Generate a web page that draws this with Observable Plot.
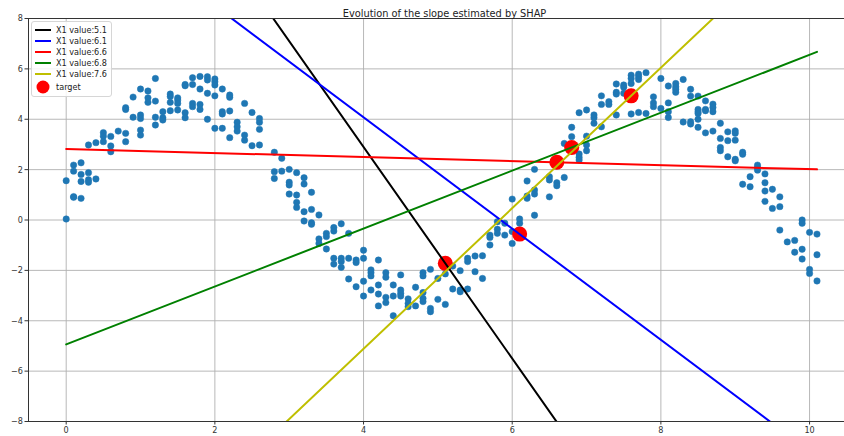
<!DOCTYPE html>
<html>
<head>
<meta charset="utf-8">
<script src="https://cdn.jsdelivr.net/npm/d3@7"></script>
<script src="https://cdn.jsdelivr.net/npm/@observablehq/plot@0.6"></script>
<style>
  html, body { margin: 0; padding: 0; background: #fff; }
  #wrap { position: relative; width: 844px; height: 436px; overflow: hidden; }
  #legend {
    position: absolute; left: 31px; top: 21px;
    padding: 2px 4px 2px 3px;
    background: rgba(255,255,255,0.85);
    border: 1px solid #d6d6d6; border-radius: 3px;
    font: 9px "DejaVu Sans Condensed", "DejaVu Sans", sans-serif; color: #222;
  }
  #legend .row { display: flex; align-items: center; height: 11.2px; white-space: nowrap; }
  #legend svg { margin-right: 5px; flex: none; }
</style>
</head>
<body>
<div id="wrap"><div id="legend"></div></div>
<script>
// Sample points (X1, target), listed column by column
const sampleX = [
  0, 0,
  0.1, 0.1, 0.1, 0.1,
  0.2, 0.2, 0.2, 0.2,
  0.3, 0.3, 0.3, 0.3,
  0.4, 0.4,
  0.5, 0.5, 0.5,
  0.6, 0.6, 0.6,
  0.7,
  0.8, 0.8, 0.8, 0.8,
  0.9, 0.9,
  1.0, 1.0, 1.0, 1.0, 1.0,
  1.1, 1.1, 1.1,
  1.2, 1.2, 1.2, 1.2,
  1.3, 1.3, 1.3,
  1.4, 1.4, 1.4, 1.4,
  1.5, 1.5, 1.5, 1.5,
  1.6, 1.6, 1.6, 1.6,
  1.7, 1.7, 1.7, 1.7,
  1.8, 1.8, 1.8, 1.8,
  1.9, 1.9, 1.9, 1.9,
  2.0, 2.0, 2.0, 2.0, 2.0,
  2.1, 2.1, 2.1, 2.1,
  2.2, 2.2, 2.2, 2.2,
  2.3, 2.3, 2.3,
  2.4, 2.4, 2.4,
  2.5, 2.5,
  2.6, 2.6, 2.6, 2.6,
  2.8, 2.8, 2.8,
  2.9, 2.9,
  3.0, 3.0, 3.0, 3.0,
  3.1, 3.1, 3.1, 3.1,
  3.2, 3.2, 3.2, 3.2,
  3.3, 3.3, 3.3, 3.3,
  3.4, 3.4, 3.4,
  3.5, 3.5, 3.5,
  3.6, 3.6, 3.6, 3.6,
  3.7, 3.7, 3.7, 3.7,
  3.8, 3.8, 3.8,
  3.9, 3.9, 3.9,
  4.0, 4.0, 4.0, 4.0,
  4.1, 4.1, 4.1, 4.1,
  4.2, 4.2, 4.2, 4.2,
  4.3, 4.3, 4.3, 4.3,
  4.4, 4.4, 4.4,
  4.5, 4.5, 4.5, 4.5,
  4.6, 4.6, 4.6,
  4.7, 4.7,
  4.8, 4.8, 4.8, 4.8, 4.8,
  4.9, 4.9, 4.9,
  5.0, 5.0,
  5.1, 5.1, 5.1,
  5.2, 5.2,
  5.3, 5.3, 5.3,
  5.4, 5.4, 5.4,
  5.5, 5.5,
  5.6, 5.6,
  5.7, 5.7, 5.7,
  5.8, 5.8, 5.8,
  5.9, 5.9,
  6.0, 6.0, 6.0,
  6.1, 6.1,
  6.2, 6.2, 6.2,
  6.3, 6.3, 6.3, 6.3,
  6.5, 6.5, 6.5,
  6.6, 6.6,
  6.7, 6.7,
  6.8, 6.8,
  6.9, 6.9, 6.9, 6.9,
  7.0, 7.0, 7.0, 7.0,
  7.1, 7.1, 7.1,
  7.2, 7.2, 7.2,
  7.3, 7.3,
  7.4, 7.4, 7.4, 7.4,
  7.5, 7.5, 7.5,
  7.6, 7.6, 7.6, 7.6,
  7.7, 7.7, 7.7, 7.7,
  7.8, 7.8,
  7.9, 7.9, 7.9,
  8.0, 8.0,
  8.1, 8.1, 8.1, 8.1,
  8.2, 8.2, 8.2, 8.2,
  8.3, 8.3,
  8.4, 8.4, 8.4, 8.4,
  8.5, 8.5, 8.5, 8.5, 8.5, 8.5,
  8.6, 8.6, 8.6, 8.6,
  8.7, 8.7, 8.7, 8.7,
  8.8, 8.8, 8.8, 8.8,
  8.9, 8.9, 8.9,
  9.0, 9.0, 9.0, 9.0, 9.0,
  9.1, 9.1, 9.1,
  9.2, 9.2,
  9.3, 9.3, 9.3,
  9.4, 9.4, 9.4, 9.4,
  9.5, 9.5,
  9.6, 9.6, 9.6,
  9.7,
  9.8, 9.8,
  9.9, 9.9, 9.9, 9.9,
  10.0, 10.0, 10.0,
  10.1, 10.1, 10.1
];
const sampleY = [
  1.56, 0.04,
  2.18, 1.94, 0.93, 0.90,
  2.27, 1.81, 1.53, 0.86,
  2.98, 1.88, 1.60, 1.50,
  3.07, 1.63,
  3.47, 3.33, 3.11,
  3.32, 2.94, 2.71,
  3.53,
  4.46, 4.39, 3.44, 3.11,
  4.88, 4.08,
  5.20, 4.17, 4.03, 3.57, 3.37,
  5.12, 4.85, 4.67,
  5.62, 4.72, 4.08, 3.77,
  4.30, 4.06, 3.97,
  5.00, 4.90, 4.67, 4.34,
  4.85, 4.76, 4.63, 4.37,
  5.38, 5.33, 4.26, 4.06,
  5.65, 5.38, 4.63, 4.50,
  5.70, 5.20, 4.59, 4.39,
  5.69, 5.56, 5.03, 4.00,
  5.60, 5.49, 5.36, 4.93, 3.64,
  5.20, 4.30, 4.21, 3.64,
  4.96, 4.87, 4.33, 3.27,
  3.88, 3.70, 3.53,
  4.63, 3.37, 3.17,
  4.27, 2.95,
  4.03, 3.88, 3.60, 2.98,
  2.69, 1.92, 1.65,
  2.45, 1.94,
  2.01, 1.50, 1.39, 1.03,
  1.88, 0.99, 0.70, 0.50,
  1.68, 1.43, 0.33, -0.04,
  1.10, 0.42, -0.11, -0.17,
  0.20, -0.75, -0.93,
  -0.53, -0.66, -1.15,
  -0.30, -0.44, -1.52, -1.75,
  -0.15, -1.52, -1.65, -1.88,
  -0.53, -1.52, -2.34,
  -1.59, -1.69, -2.65,
  -1.20, -1.52, -2.43, -3.02,
  -1.98, -2.09, -2.22, -2.78,
  -1.59, -2.58, -2.94, -3.41,
  -2.09, -2.27, -3.07, -3.28,
  -2.58, -3.02, -3.80,
  -2.18, -2.78, -2.91, -3.02,
  -3.13, -3.31, -3.44,
  -2.67, -3.41,
  -2.09, -2.22, -2.88, -3.11, -3.24,
  -1.96, -3.51, -3.64,
  -2.32, -3.15,
  -1.88, -2.14, -3.35,
  -1.83, -2.74,
  -2.01, -2.78, -2.85,
  -1.52, -1.65, -2.74,
  -1.43, -2.05,
  -1.42, -2.32,
  -0.60, -0.69, -0.99,
  -0.07, -0.37, -0.53,
  -0.13, -0.60,
  0.83, -0.46, -0.93,
  0.04, -0.13,
  1.55, 0.95, 0.86,
  2.01, 1.19, 1.03, 0.19,
  1.72, 1.59, 0.92,
  1.48, 1.36,
  3.04, 1.69,
  3.68, 3.31,
  4.26, 2.62, 2.49, 2.38,
  4.37, 3.33, 2.98, 2.75,
  4.17, 4.06, 3.84,
  4.93, 4.59, 3.70,
  4.70, 4.59,
  5.40, 5.07, 5.00, 4.17,
  5.36, 5.27, 5.03,
  5.75, 5.62, 5.42, 4.21,
  5.79, 5.69, 5.58, 4.27,
  5.85, 4.23,
  4.89, 4.65, 4.50,
  5.62, 4.43,
  5.32, 4.65, 4.30, 4.07,
  5.42, 5.29, 5.19, 5.07,
  5.58, 3.89,
  5.19, 4.92, 3.90, 3.81,
  4.92, 4.39, 4.30, 4.23, 4.00, 3.68,
  4.73, 4.39, 4.34, 3.46,
  4.60, 4.47, 4.30, 3.53,
  3.84, 3.24, 2.88, 2.75,
  3.50, 3.15, 2.51,
  3.54, 3.44, 3.17, 2.41, 2.35,
  2.69, 2.61, 1.42,
  1.72, 1.32,
  2.18, 2.08, 1.98,
  1.83, 1.48, 1.15, 0.74,
  1.22, 0.46,
  0.92, 0.53, -0.40,
  -0.87,
  -0.81, -1.28,
  0.00, -0.13, -1.16, -1.55,
  -0.49, -1.96, -2.12,
  -0.56, -1.38, -2.42
];

// Explained points and the local slope estimated for each
const targetX = [5.1, 6.1, 6.6, 6.8, 7.6];
const targetY = [-1.72, -0.56, 2.29, 2.88, 4.93];
const slopes = [-4.2, -2.21, -0.08, 1.15, 2.79];
const lineColors = ["#000000", "#0000ff", "#ff0000", "#008000", "#bfbf00"];

const xTicks = [0, 2, 4, 6, 8, 10];
const yTicks = [-8, -6, -4, -2, 0, 2, 4, 6, 8];
const title = "Evolution of the slope estimated by SHAP";

const labels = targetX.map(v => `X1 value:${v}`);
const points = sampleX.map((x, i) => ({x, y: sampleY[i]}));
const targets = targetX.map((x, i) => ({x, y: targetY[i]}));

// each slope line spans the range of X1 and passes through its target
const x0 = d3.min(sampleX), x1 = d3.max(sampleX);
const slopeLines = targets.flatMap((t, i) => [x0, x1].map(x => ({
  x, y: t.y + slopes[i] * (x - t.x), label: labels[i]
})));

const minus = d => (d < 0 ? "\u2212" + (-d) : String(d));
const font = "DejaVu Sans Condensed, DejaVu Sans, sans-serif";

const chart = Plot.plot({
  width: 844,
  height: 436,
  marginLeft: 28,
  marginRight: 0,
  marginTop: 18,
  marginBottom: 15,
  style: {fontFamily: font, fontSize: "9px", color: "#333", background: "#fff"},
  x: {domain: [-0.507, 10.47]},
  y: {domain: [-8, 8]},
  color: {domain: labels, range: lineColors},
  marks: [
    Plot.gridX(xTicks, {stroke: "#b0b0b0", strokeOpacity: 1, strokeWidth: 0.9}),
    Plot.gridY(yTicks, {stroke: "#b0b0b0", strokeOpacity: 1, strokeWidth: 0.9}),
    Plot.dot(points, {x: "x", y: "y", r: 3.2, fill: "#1f77b4", stroke: "#1f77b4", strokeWidth: 0.5}),
    Plot.dot(targets, {x: "x", y: "y", r: 7.5, fill: "#ff0000"}),
    Plot.line(slopeLines, {x: "x", y: "y", z: "label", stroke: "label", strokeWidth: 2, clip: true}),
    Plot.frame({stroke: "#333", strokeWidth: 1}),
    Plot.axisX(xTicks, {tickSize: 3.5, tickPadding: 2, tickFormat: minus, label: null, fontSize: 9}),
    Plot.axisY(yTicks, {tickSize: 3.5, tickPadding: 2, tickFormat: minus, label: null, fontSize: 9}),
    Plot.text([title], {frameAnchor: "top", dx: 8, dy: -9, fontSize: 10.9, fill: "#222"})
  ]
});

const wrap = document.getElementById("wrap");
wrap.insertBefore(chart, wrap.firstChild);

// legend: one row per slope line, then the target marker
const legend = d3.select("#legend");
labels.forEach((lab, i) => {
  const row = legend.append("div").attr("class", "row");
  const s = row.append("svg").attr("width", 16).attr("height", 8);
  s.append("line").attr("x1", 0).attr("x2", 16).attr("y1", 4).attr("y2", 4)
    .attr("stroke", lineColors[i]).attr("stroke-width", 2);
  row.append("span").text(lab);
});
const trow = legend.append("div").attr("class", "row").style("height", "14px");
const ts = trow.append("svg").attr("width", 16).attr("height", 14);
ts.append("circle").attr("cx", 8).attr("cy", 7).attr("r", 6.5).attr("fill", "#ff0000");
trow.append("span").text("target");
</script>
</body>
</html>
